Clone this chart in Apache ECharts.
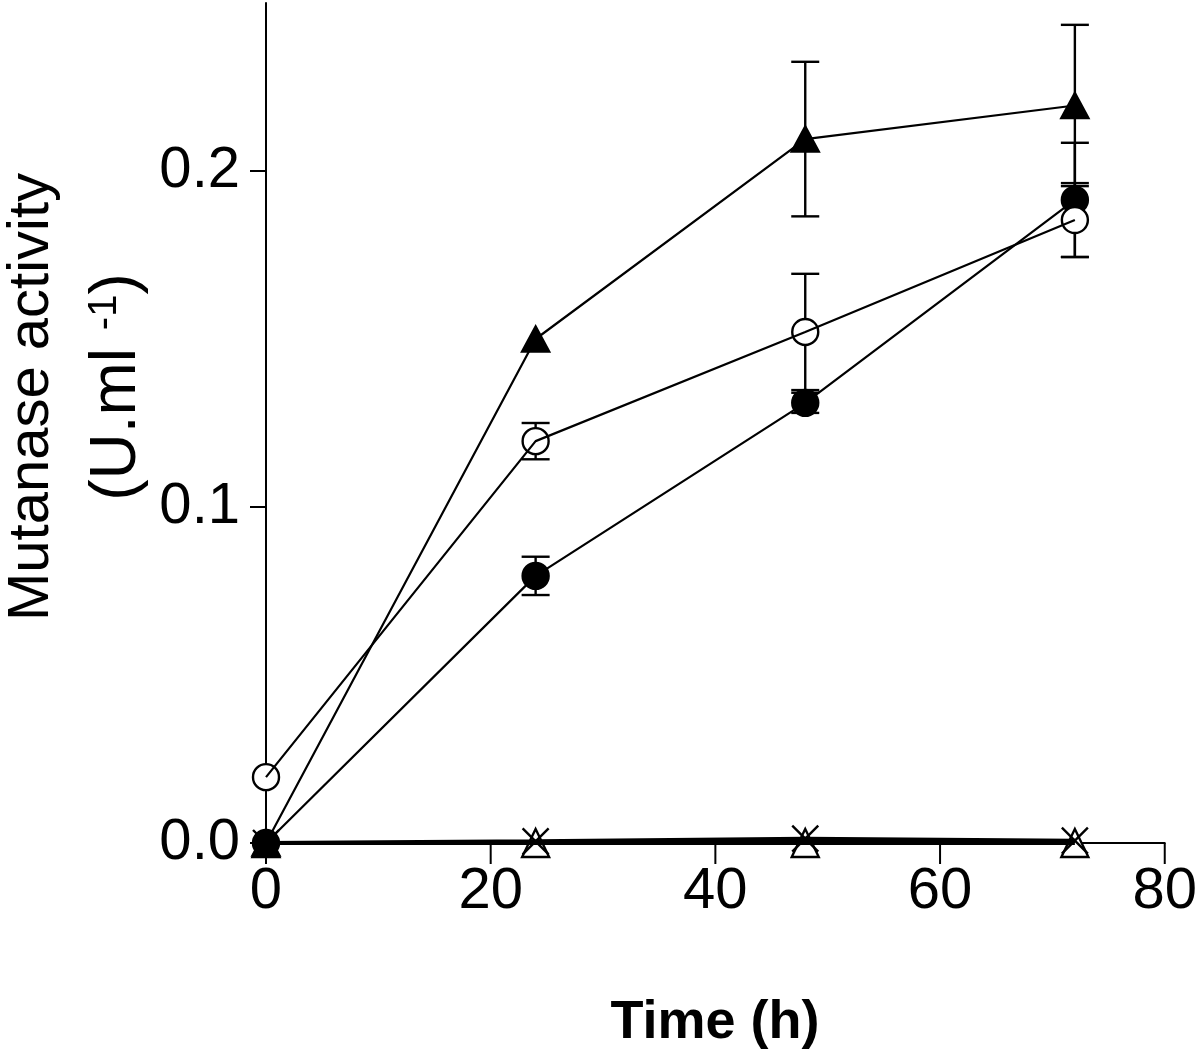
<!DOCTYPE html>
<html>
<head>
<meta charset="utf-8">
<script src="https://cdn.jsdelivr.net/npm/echarts@6/dist/echarts.min.js"></script>
<style>
html,body{margin:0;padding:0;background:#fff;}
#chart{width:1200px;height:1062px;}
</style>
</head>
<body>
<div id="chart"></div>
<script>
// ---- data ----
const times = [0, 24, 48, 72];
const triFilled = [0, 0.150, 0.2095, 0.2195];
const triFilledErr = [0, 0, 0.023, 0.024];
const circOpen = [0.0196, 0.1196, 0.1521, 0.1854];
const circOpenErr = [0, 0.0054, 0.0173, 0.011];
const circFilled = [0, 0.0795, 0.131, 0.1914];
const circFilledErr = [0, 0.0057, 0.003, 0.017];
const triOpen = [0, 0, 0, 0];
const crossVals = [0, 0.0005, 0.0013, 0.0007];
const xTicks = [0, 20, 40, 60, 80];
const yTicks = [0, 0.1, 0.2];
const xTitle = 'Time (h)';
const yTitle1 = 'Mutanase activity';
const yTitle2 = '(U.ml {sup|-1})';

const FONT = '"Liberation Sans", Arial, Helvetica, sans-serif';

function pairs(vals) { return times.map((t, i) => [t, vals[i]]); }
function errData(vals, errs) {
  const out = [];
  times.forEach((t, i) => { if (errs[i] > 0) out.push([t, vals[i] - errs[i], vals[i] + errs[i]]); });
  return out;
}
function errSeries(vals, errs) {
  return {
    type: 'custom', z: 1, silent: true,
    data: errData(vals, errs),
    renderItem: function (params, api) {
      const x = api.value(0);
      const lo = api.coord([x, api.value(1)]);
      const hi = api.coord([x, api.value(2)]);
      const hw = 14;
      const st = { stroke: '#000', lineWidth: 2.4 };
      return { type: 'group', children: [
        { type: 'line', shape: { x1: lo[0], y1: lo[1], x2: hi[0], y2: hi[1] }, style: st },
        { type: 'line', shape: { x1: lo[0] - hw, y1: lo[1], x2: lo[0] + hw, y2: lo[1] }, style: st },
        { type: 'line', shape: { x1: hi[0] - hw, y1: hi[1], x2: hi[0] + hw, y2: hi[1] }, style: st }
      ]};
    }
  };
}
// x-axis tick marks, placed through the axis scale
const xTickSeries = {
  type: 'custom', z: 5, silent: true, clip: false,
  data: xTicks.map(v => [v, 0]),
  renderItem: function (params, api) {
    const p = api.coord([api.value(0), 0]);
    return { type: 'line', shape: { x1: p[0], y1: p[1], x2: p[0], y2: p[1] + 21 },
      style: { stroke: '#000', lineWidth: 2 } };
  }
};
function lineSeries(vals, w) {
  return { type: 'line', data: pairs(vals), symbol: 'none', z: 3, silent: true,
    lineStyle: { color: '#000', width: w || 2.2 } };
}
function markSeries(vals, symbol, size, fill) {
  return { type: 'scatter', data: pairs(vals), symbol: symbol, symbolSize: size, z: 2, silent: true,
    symbolKeepAspect: true,
    itemStyle: { color: fill, borderColor: '#000', borderWidth: 2.4, opacity: 1 } };
}

const chart = echarts.init(document.getElementById('chart'), null, { renderer: 'canvas' });
chart.setOption({
  backgroundColor: '#fff',
  animation: false,
  grid: { left: 266, right: 32, top: 3, bottom: 219 },
  xAxis: {
    type: 'value', min: xTicks[0], max: xTicks[xTicks.length - 1], interval: xTicks[1] - xTicks[0],
    axisLine: { lineStyle: { color: '#000', width: 2 } },
    axisTick: { show: false },
    axisLabel: { color: '#000', fontSize: 58, fontFamily: FONT, margin: 20 },
    splitLine: { show: false }
  },
  yAxis: {
    type: 'value', min: 0, max: 0.25,
    axisLine: { show: true, lineStyle: { color: '#000', width: 2 } },
    axisTick: { show: true, length: 16, customValues: yTicks, lineStyle: { color: '#000', width: 2 } },
    axisLabel: { color: '#000', fontSize: 58, fontFamily: FONT, margin: 26, customValues: yTicks,
      formatter: v => v.toFixed(1) },
    splitLine: { show: false }
  },
  graphic: [
    { type: 'text', x: 32, y: 397, rotation: Math.PI / 2,
      style: { text: yTitle1, font: '58px ' + FONT, fill: '#000', align: 'center', verticalAlign: 'middle' } },
    { type: 'text', x: 117, y: 387, rotation: Math.PI / 2,
      style: { text: yTitle2, fontSize: 64, fontFamily: FONT, fill: '#000', align: 'center', verticalAlign: 'middle',
        rich: { sup: { fontSize: 40, fontFamily: FONT, verticalAlign: 'top', fill: '#000' } } } },
    { type: 'text', x: 715, y: 1023,
      style: { text: xTitle, font: 'bold 54px ' + FONT, fill: '#000', align: 'center', verticalAlign: 'middle' } }
  ],
  series: [
    xTickSeries,
    errSeries(triFilled, triFilledErr),
    errSeries(circOpen, circOpenErr),
    errSeries(circFilled, circFilledErr),
    markSeries(triOpen, 'triangle', [27, 28], '#fff'),
    markSeries(crossVals, 'path://M0,0L10,10M10,0L0,10', [26, 26], 'none'),
    markSeries(circFilled, 'circle', 26, '#000'),
    markSeries(circOpen, 'circle', 26, '#fff'),
    markSeries(triFilled, 'triangle', [27, 25], '#000'),
    lineSeries(triOpen, 4),
    lineSeries(crossVals, 4),
    lineSeries(circFilled),
    lineSeries(circOpen),
    lineSeries(triFilled)
  ]
});
</script>
</body>
</html>
